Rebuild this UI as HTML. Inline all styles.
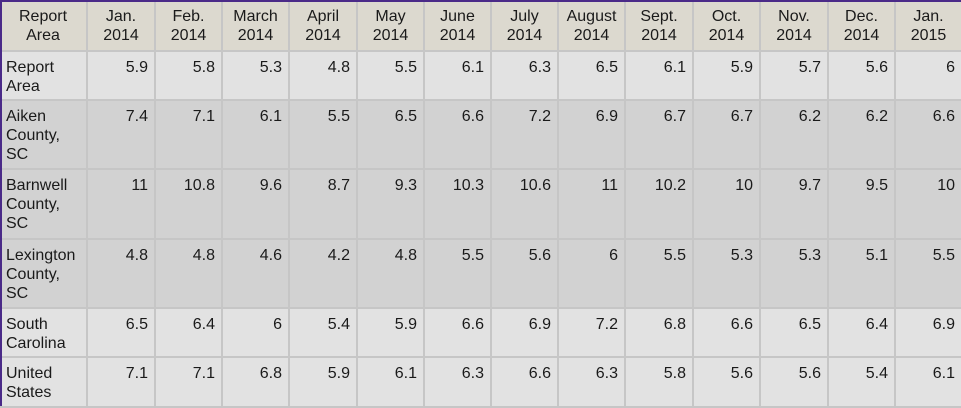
<!DOCTYPE html>
<html><head><meta charset="utf-8"><style>
html,body{margin:0;padding:0;width:961px;height:406px;overflow:hidden;background:#d2d2d2;font-family:"Liberation Sans",Arial,sans-serif;}
#t{position:absolute;left:0;top:0;width:961px;height:406px;}
.c{position:absolute;box-sizing:border-box;font-size:16px;line-height:19px;color:#1a1a1a;padding:6px 6px 0 6px;border-right:2px solid #c6c6c6;border-bottom:2px solid #c6c6c6;overflow:hidden;white-space:nowrap;}
.h{background:#dcd9cf;text-align:center;padding:7px 2px 0 2px;}
.n{text-align:right;}
.l{text-align:left;}
#frame{position:absolute;left:0;top:0;width:961px;height:406px;box-sizing:border-box;border-left:2px solid #4a2a88;border-top:2px solid #4a2a88;pointer-events:none;}
</style></head><body>
<div id="t"></div>
<div id="frame"></div>
<script>
const headers=["Report<br>Area","Jan.<br>2014","Feb.<br>2014","March<br>2014","April<br>2014","May<br>2014","June<br>2014","July<br>2014","August<br>2014","Sept.<br>2014","Oct.<br>2014","Nov.<br>2014","Dec.<br>2014","Jan.<br>2015"];
const areas=["Report<br>Area","Aiken<br>County,<br>SC","Barnwell<br>County,<br>SC","Lexington<br>County,<br>SC","South<br>Carolina","United<br>States"];
const r0=["5.9","5.8","5.3","4.8","5.5","6.1","6.3","6.5","6.1","5.9","5.7","5.6","6"];
const r1=["7.4","7.1","6.1","5.5","6.5","6.6","7.2","6.9","6.7","6.7","6.2","6.2","6.6"];
const r2=["11","10.8","9.6","8.7","9.3","10.3","10.6","11","10.2","10","9.7","9.5","10"];
const r3=["4.8","4.8","4.6","4.2","4.8","5.5","5.6","6","5.5","5.3","5.3","5.1","5.5"];
const r4=["6.5","6.4","6","5.4","5.9","6.6","6.9","7.2","6.8","6.6","6.5","6.4","6.9"];
const r5=["7.1","7.1","6.8","5.9","6.1","6.3","6.6","6.3","5.8","5.6","5.6","5.4","6.1"];
const rows=[r0,r1,r2,r3,r4,r5];
const xs=[0,88,156,223,290,358,425,492,559,626,694,761,829,896,963];
const ys=[0,52,101,170,240,309,358,408];
const bgs=["#e2e2e2","#d2d2d2","#d2d2d2","#d2d2d2","#e2e2e2","#e2e2e2"];
const t=document.getElementById('t');
function cell(x0,x1,y0,y1,html,cls,bg){
  const d=document.createElement('div');
  d.className='c '+cls;
  d.style.left=x0+'px';d.style.top=y0+'px';
  d.style.width=(x1-x0)+'px';d.style.height=(y1-y0)+'px';
  if(bg)d.style.background=bg;
  d.innerHTML=html;
  t.appendChild(d);
  return d;
}
headers.forEach((h,i)=>{
  const d=cell(xs[i],xs[i+1],ys[0],ys[1],h,'h');
  
  
});
areas.forEach((a,r)=>{
  const d=cell(xs[0],xs[1],ys[r+1],ys[r+2],a,'l',bgs[r]);
  
  
  rows[r].forEach((v,c)=>{
    const e=cell(xs[c+1],xs[c+2],ys[r+1],ys[r+2],v,'n',bgs[r]);
    
    
  });
});
</script>
</body></html>
